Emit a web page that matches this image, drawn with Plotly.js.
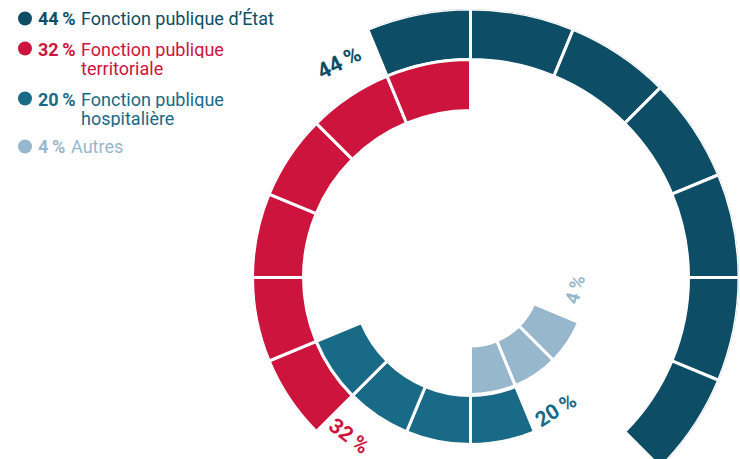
<!DOCTYPE html>
<html>
<head>
<meta charset="utf-8">
<script src="https://cdn.plot.ly/plotly-3.0.1.min.js"></script>
<style>
html,body{margin:0;padding:0;background:#fff;overflow:hidden;width:740px;height:459px;}
#chart{width:740px;height:560px;}
</style>
</head>
<body>
<div id="chart"></div>
<script>
// ---- data ----
const categories = ['Fonction publique d’État', 'Fonction publique territoriale', 'Fonction publique hospitalière', 'Autres'];
const legendLines = [['Fonction publique d’État'], ['Fonction publique', 'territoriale'], ['Fonction publique', 'hospitalière'], ['Autres']];
const shares = [44, 32, 20, 4];
const segmentCounts = [7, 6, 4, 3];

// ---- style / layout constants ----
const colors = ['#0d4e66', '#cc143d', '#196a87', '#97b7cc'];
const W = 740, H = 560;
const SEG = 22.5;                         // angular width of one segment
const ringStart = [-22.5, 225, 157.5, 112.5];
const ringInner = [218, 167, 118, 68.5];
const ringOuter = [268.5, 218, 167, 117];
const RMAX = 268.5;
const cx = 470.5, cy = 277.5;
const labelPos = [ {a:-31.4, r:252, rot:-27, size:22},
                   {a:217.5, r:200, rot:37, size:21},
                   {a:147.2, r:158, rot:-32, size:21},
                   {a:96.3, r:105, rot:-74, size:19} ];
const legendTextX = [80, 80, 80, 70];

const fmt = v => v + '\u2009%';

const traces = categories.map((c, i) => {
  const theta = [], r = [], base = [], width = [];
  for (let k = 0; k < segmentCounts[i]; k++) {
    theta.push(ringStart[i] + (k + 0.5) * SEG);
    r.push(ringOuter[i] - ringInner[i]);
    base.push(ringInner[i]);
    width.push(SEG);
  }
  return {type:'barpolar', name:c, theta, r, base, width,
          marker:{color:colors[i], line:{color:'#ffffff', width:3}},
          hoverinfo:'skip', showlegend:false};
});

const px = x => x / W, py = y => 1 - y / H;
const annotations = [];
const shapes = [];
// ring value labels
shares.forEach((v, i) => {
  const L = labelPos[i], t = L.a * Math.PI / 180;
  annotations.push({xref:'paper', yref:'paper', x:px(cx + L.r*Math.sin(t)), y:py(cy - L.r*Math.cos(t)),
    xanchor:'center', yanchor:'middle', showarrow:false, textangle:L.rot,
    text:'<b>' + fmt(v) + '</b>', font:{family:'Roboto', size:L.size, color:colors[i]}});
});
// legend
const legendTop = [18, 48, 98, 146];
legendTop.forEach((y, i) => {
  shapes.push({type:'circle', xref:'paper', yref:'paper', x0:px(18), x1:px(32), y0:py(y+7.5), y1:py(y-6.5),
               fillcolor:colors[i], line:{width:0}});
  annotations.push({xref:'paper', yref:'paper', x:px(36), y:py(y+1), xanchor:'left', yanchor:'middle', showarrow:false,
    text:'<b>' + fmt(shares[i]) + '</b>', font:{family:'Roboto', size:18, color:colors[i]}});
  legendLines[i].forEach((line, j) => {
    const a = {xref:'paper', yref:'paper', x:px(legendTextX[i] - 1), y:py(y + 1 + j*18.5), xanchor:'left', yanchor:'middle', showarrow:false,
      text:line, font:{family:'Roboto', size:18, color:colors[i]}};
    if (legendLines[i].length > 1) a.height = 18;
    annotations.push(a);
  });
});

const layout = {
  width:W, height:H, margin:{l:0,r:0,t:0,b:0,pad:0},
  paper_bgcolor:'#fff', plot_bgcolor:'#fff',
  polar:{
    domain:{x:[(cx-RMAX)/W, (cx+RMAX)/W], y:[1-(cy+RMAX)/H, 1-(cy-RMAX)/H]},
    bgcolor:'rgba(0,0,0,0)', hole:0,
    radialaxis:{range:[0, RMAX], visible:false, showgrid:false},
    angularaxis:{rotation:90, direction:'clockwise', visible:false, showgrid:false}
  },
  barmode:'overlay',
  annotations, shapes, showlegend:false
};
Plotly.newPlot('chart', traces, layout, {displayModeBar:false, staticPlot:true});
</script>
</body>
</html>
